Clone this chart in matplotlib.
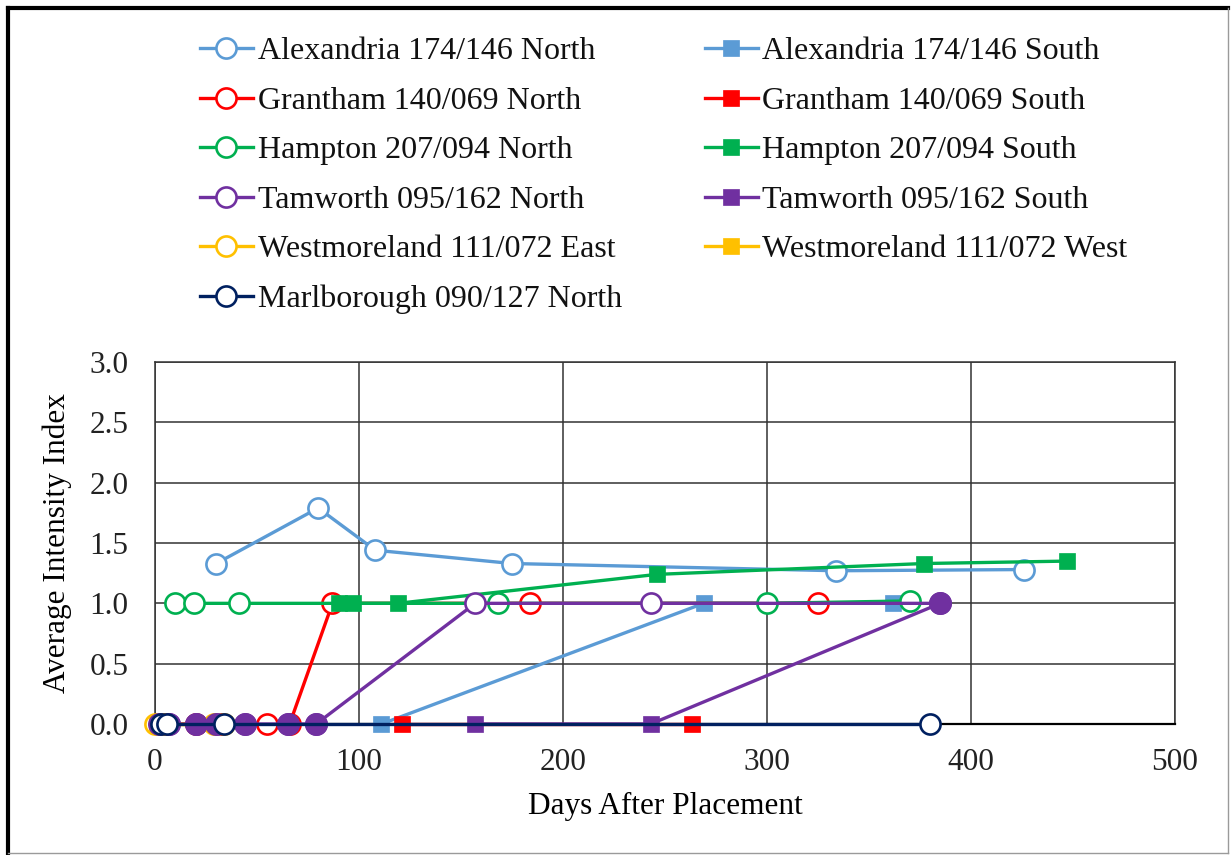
import matplotlib
matplotlib.use("Agg")
import matplotlib.pyplot as plt
from matplotlib.lines import Line2D

plt.rcParams['font.family'] = ['Liberation Serif', 'DejaVu Serif']

# ---- data ----
alex_n_days = [30, 80, 108, 175, 334, 426]
alex_n_vals = [1.33, 1.79, 1.44, 1.33, 1.27, 1.28]
alex_s_days = [111, 269, 362]
alex_s_vals = [0.0, 1.0, 1.0]
gran_n_days = [5, 20, 33, 55, 66, 87, 184, 325]
gran_n_vals = [0, 0, 0, 0, 0, 1.0, 1.0, 1.0]
gran_s_days = [121, 263]
gran_s_vals = [0.0, 0.0]
hamp_n_days = [10, 19, 41, 168, 300, 370]
hamp_n_vals = [1.0, 1.0, 1.0, 1.0, 1.0, 1.02]
hamp_s_days = [90, 97, 119, 246, 377, 447]
hamp_s_vals = [1.0, 1.0, 1.0, 1.24, 1.33, 1.35]
tam_n_days = [2, 7, 20, 30, 44, 65, 79, 157, 243, 385]
tam_n_vals = [0, 0, 0, 0, 0, 0, 0, 1.0, 1.0, 1.0]
tam_s_days = [157, 243, 385]
tam_s_vals = [0.0, 0.0, 1.0]
tam_filled_days = [2, 7, 20, 30, 44, 65, 79, 385]
tam_filled_vals = [0, 0, 0, 0, 0, 0, 0, 1.0]
west_e_days = [0, 4, 29, 34]
west_e_vals = [0, 0, 0, 0]
west_w_days = [1, 6, 31, 34]
west_w_vals = [0, 0, 0, 0]
marl_n_days = [3, 6, 34, 380]
marl_n_vals = [0, 0, 0, 0]

x_ticks = [0, 100, 200, 300, 400, 500]
y_ticks = [0.0, 0.5, 1.0, 1.5, 2.0, 2.5, 3.0]

C_BLUE = '#5B9BD5'
C_RED = '#FF0000'
C_GREEN = '#00B050'
C_PURPLE = '#7030A0'
C_YELLOW = '#FFC000'
C_NAVY = '#002060'

W, H = 1232, 855
fig = plt.figure(figsize=(W / 100, H / 100), dpi=100)
ax = fig.add_axes([155 / W, 1 - 724 / H, (1175 - 155) / W, (724 - 362) / H])

LW = 2.4
MS_C = 14.5
MS_S = 12
MEW = 1.9

def hollow(days, vals, color, label, z):
    return ax.plot(days, vals, color=color, lw=LW, marker='o', ms=MS_C,
                   mfc='white', mec=color, mew=MEW, label=label, zorder=z,
                   clip_on=False)[0]

def square(days, vals, color, label, z, markevery=None):
    return ax.plot(days, vals, color=color, lw=LW, marker='s', ms=MS_S,
                   mfc=color, mec=color, mew=0.5, label=label, zorder=z,
                   markevery=markevery, clip_on=False)[0]

h_an = hollow(alex_n_days, alex_n_vals, C_BLUE, 'Alexandria 174/146 North', 3)
h_as = square(alex_s_days, alex_s_vals, C_BLUE, 'Alexandria 174/146 South', 3.1)
h_gn = hollow(gran_n_days, gran_n_vals, C_RED, 'Grantham 140/069 North', 3.2)
h_gs = square(gran_s_days, gran_s_vals, C_RED, 'Grantham 140/069 South', 3.3)
h_hn = hollow(hamp_n_days, hamp_n_vals, C_GREEN, 'Hampton 207/094 North', 3.4)
h_hs = square(hamp_s_days, hamp_s_vals, C_GREEN, 'Hampton 207/094 South', 3.5)
h_tn = hollow(tam_n_days, tam_n_vals, C_PURPLE, 'Tamworth 095/162 North', 3.6)
h_ts = square(tam_s_days, tam_s_vals, C_PURPLE, 'Tamworth 095/162 South', 3.7,
              markevery=[0, 1])
h_we = hollow(west_e_days, west_e_vals, C_YELLOW, 'Westmoreland 111/072 East', 3.75)
h_ww = square(west_w_days, west_w_vals, C_YELLOW, 'Westmoreland 111/072 West', 3.76)
ax.plot(tam_filled_days, tam_filled_vals, linestyle='none', marker='o',
        ms=15.5, mfc=C_PURPLE, mec=C_PURPLE, zorder=3.8, clip_on=False)
h_mn = hollow(marl_n_days, marl_n_vals, C_NAVY, 'Marlborough 090/127 North', 4)

ax.set_xlim(0, 500)
ax.set_ylim(0, 3.0)
ax.set_xticks(x_ticks)
ax.set_yticks(y_ticks)
ax.set_xticklabels([str(t) for t in x_ticks])
ax.set_yticklabels([f'{t:.1f}' for t in y_ticks])
ax.tick_params(length=0, labelsize=22.5, colors='#222222')
ax.tick_params(axis='y', pad=19)
ax.tick_params(axis='x', pad=17)
ax.grid(True, color='#333333', lw=1.1)
ax.set_axisbelow(True)
for s in ax.spines.values():
    s.set_color('#333333')
    s.set_linewidth(1.1)
ax.spines['bottom'].set_color('black')
ax.spines['bottom'].set_linewidth(1.6)

ax.set_xlabel('Days After Placement', fontsize=22.5)
ax.set_ylabel('Average Intensity Index', fontsize=22.5)
ax.yaxis.set_label_coords((72 - 155) / 1020, 0.5)
ax.xaxis.set_label_coords(0.5, (724 - 792) / 362)

handles = [h_an, h_gn, h_hn, h_tn, h_we, h_mn, h_as, h_gs, h_hs, h_ts, h_ww]
leg = fig.legend(handles=handles, labels=[h.get_label() for h in handles],
                 ncol=2, loc='upper left', bbox_to_anchor=(200 / W, 1 - 37 / H),
                 frameon=False, fontsize=23, handlelength=1.65,
                 handletextpad=0.15, columnspacing=2.6, labelspacing=0.63,
                 borderaxespad=0, borderpad=0)
for t in leg.get_texts():
    t.set_color('#111111')

# figure border
fig.add_artist(Line2D([8 / W, 8 / W], [1 - 8 / H, 1 - 853 / H], color='black', lw=3.0,
                      transform=fig.transFigure))
fig.add_artist(Line2D([8 / W, 1228 / W], [1 - 8 / H, 1 - 8 / H], color='black', lw=3.0,
                      transform=fig.transFigure))
fig.add_artist(Line2D([1228 / W, 1228 / W], [1 - 8 / H, 1 - 853 / H], color='#9a9a9a', lw=1.0,
                      transform=fig.transFigure))
fig.add_artist(Line2D([8 / W, 1228 / W], [1 - 853 / H, 1 - 853 / H], color='#9a9a9a', lw=1.0,
                      transform=fig.transFigure))

fig.savefig('out.png', dpi=100)
